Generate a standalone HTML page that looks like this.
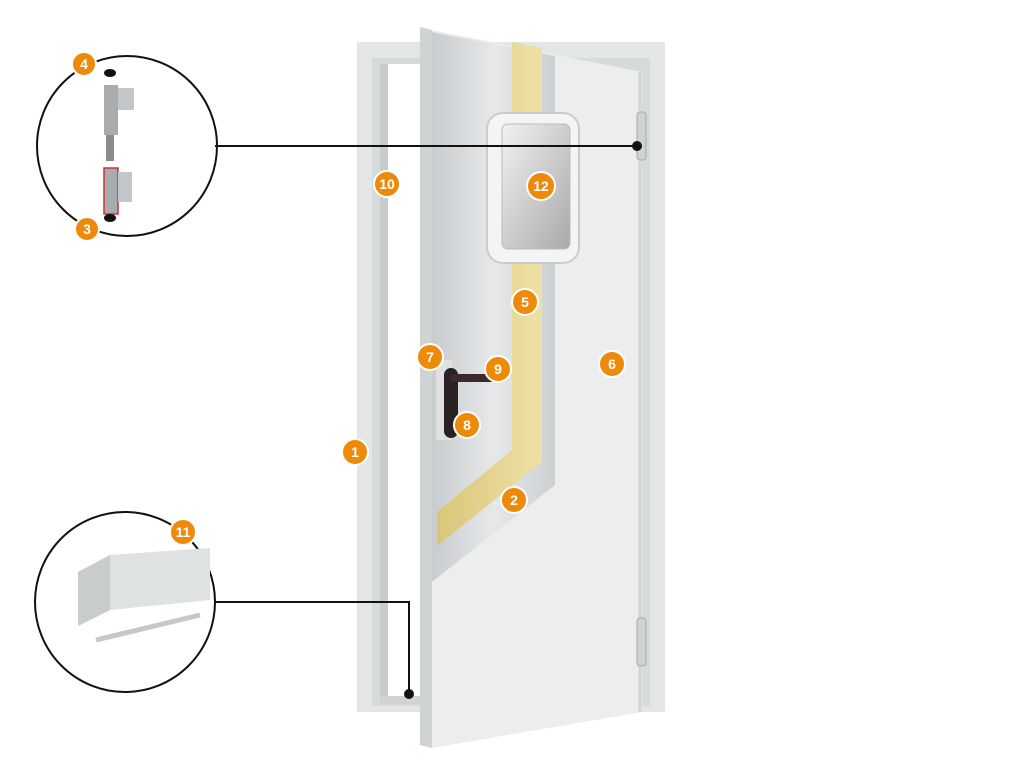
<!DOCTYPE html>
<html><head><meta charset="utf-8"><style>
html,body{margin:0;padding:0;background:#fff;}
svg{display:block;}
.b circle{fill:#ee8a0a;stroke:#fff;stroke-width:2}
.b text{fill:#fff;font-family:"Liberation Sans",sans-serif;font-weight:bold;font-size:14px;text-anchor:middle}
</style></head><body>
<svg width="1024" height="768" viewBox="0 0 1024 768" xmlns="http://www.w3.org/2000/svg">
<defs>
<linearGradient id="al" x1="0" x2="1"><stop offset="0" stop-color="#c9ccce"/><stop offset=".5" stop-color="#e6e8ea"/><stop offset="1" stop-color="#cdd0d2"/></linearGradient>
<linearGradient id="gl" x1="0" y1="0" x2="1" y2="1"><stop offset="0" stop-color="#f2f2f2"/><stop offset="1" stop-color="#a9a9ab"/></linearGradient>
<linearGradient id="ins" x1="0" x2="1"><stop offset="0" stop-color="#d9c67a"/><stop offset="1" stop-color="#efe1a6"/></linearGradient>
</defs>
<!-- frame -->
<polygon points="357,42 665,42 665,712 357,712" fill="#e3e6e6"/>
<polygon points="372,58 650,58 650,706 372,706" fill="#d6dada"/>
<rect x="380" y="64" width="50" height="640" fill="#fff"/>
<rect x="380" y="64" width="8" height="640" fill="#c8cccc"/>
<rect x="380" y="696" width="50" height="8" fill="#cfd3d3"/>
<!-- door leaf -->
<polygon points="420,27 432,30 432,748 420,745" fill="#cfd3d3"/>
<polygon points="432,30 642,72 642,712 432,748" fill="#eceeee"/>
<line x1="640" y1="72" x2="640" y2="712" stroke="#cfd3d3" stroke-width="3"/>
<!-- cutaway aluminium -->
<polygon points="432,32 555,56 555,485 432,582" fill="url(#al)"/>
<!-- insulation -->
<polygon points="512,42 542,48 542,462 437,546 437,512 512,450" fill="url(#ins)"/>
<!-- hinges -->
<rect x="637" y="112" width="9" height="48" rx="3" fill="#cfd2d2" stroke="#aaa"/>
<rect x="637" y="618" width="9" height="48" rx="3" fill="#cfd2d2" stroke="#aaa"/>
<!-- window -->
<rect x="487" y="113" width="92" height="150" rx="16" fill="#f3f4f4" stroke="#c9cccc" stroke-width="2"/>
<rect x="502" y="124" width="68" height="125" rx="6" fill="url(#gl)" stroke="#bbb"/>
<!-- handle -->
<rect x="436" y="360" width="16" height="80" fill="#e0e2e2"/>
<rect x="444" y="368" width="14" height="70" rx="7" fill="#2a2222"/>
<rect x="450" y="374" width="52" height="8" rx="3" fill="#3a2a2a"/>
<!-- callout circles -->
<circle cx="127" cy="146" r="90" fill="#fff" stroke="#111" stroke-width="2"/>
<rect x="104" y="85" width="14" height="50" fill="#a9acae"/>
<rect x="118" y="88" width="16" height="22" fill="#c4c7c9"/>
<rect x="106" y="135" width="8" height="26" fill="#8a8d90"/>
<rect x="104" y="168" width="14" height="46" fill="#a9acae" stroke="#c33" stroke-width="1.5"/>
<rect x="118" y="172" width="14" height="30" fill="#c4c7c9"/>
<ellipse cx="110" cy="73" rx="6" ry="4" fill="#111"/>
<ellipse cx="110" cy="218" rx="6" ry="4" fill="#111"/>
<circle cx="125" cy="602" r="90" fill="#fff" stroke="#111" stroke-width="2"/>
<polygon points="78,572 110,555 210,548 210,600 110,610 78,626" fill="#dfe2e3"/>
<polygon points="78,572 110,555 110,610 78,626" fill="#c9cccd"/>
<line x1="96" y1="640" x2="200" y2="615" stroke="#c5c8c9" stroke-width="5"/>
<!-- connectors -->
<polyline points="215,146 637,146" fill="none" stroke="#111" stroke-width="2"/>
<circle cx="637" cy="146" r="5" fill="#111"/>
<polyline points="215,602 409,602 409,694" fill="none" stroke="#111" stroke-width="2"/>
<circle cx="409" cy="694" r="5" fill="#111"/>
<!-- badges -->
<g class="b">
<circle cx="84" cy="64" r="12"/><text x="84" y="69">4</text>
<circle cx="87" cy="229" r="12"/><text x="87" y="234">3</text>
<circle cx="387" cy="184" r="13"/><text x="387" y="189">10</text>
<circle cx="541" cy="186" r="14"/><text x="541" y="191">12</text>
<circle cx="525" cy="302" r="13"/><text x="525" y="307">5</text>
<circle cx="430" cy="357" r="13"/><text x="430" y="362">7</text>
<circle cx="498" cy="369" r="13"/><text x="498" y="374">9</text>
<circle cx="467" cy="425" r="13"/><text x="467" y="430">8</text>
<circle cx="612" cy="364" r="13"/><text x="612" y="369">6</text>
<circle cx="355" cy="452" r="13"/><text x="355" y="457">1</text>
<circle cx="514" cy="500" r="13"/><text x="514" y="505">2</text>
<circle cx="183" cy="532" r="13"/><text x="183" y="537">11</text>
</g>
</svg>
</body></html>
